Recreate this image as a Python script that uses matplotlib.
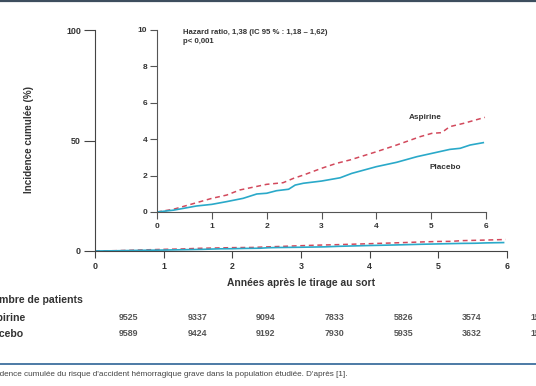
import numpy as np
import matplotlib.pyplot as plt
import matplotlib.transforms as mtransforms

# courbes (annees, incidence cumulee en %)
asp_x = [0, 0.3, 1.0, 1.27, 1.51, 2.0, 2.3, 2.49, 2.67, 3.0, 3.27, 3.52, 4.0, 4.37, 4.8, 5.01, 5.19, 5.34, 5.59, 5.98]
asp_y = [0, 0.15, 0.75, 0.93, 1.21, 1.52, 1.61, 1.85, 2.03, 2.4, 2.67, 2.86, 3.31, 3.68, 4.14, 4.32, 4.36, 4.69, 4.87, 5.2]
pla_x = [0, 0.3, 0.72, 1.0, 1.27, 1.57, 1.82, 2.0, 2.18, 2.4, 2.52, 2.67, 3.0, 3.34, 3.55, 4.0, 4.37, 4.74, 5.01, 5.34, 5.53, 5.71, 5.95]
pla_y = [0, 0.1, 0.33, 0.42, 0.57, 0.75, 0.99, 1.03, 1.17, 1.25, 1.48, 1.58, 1.7, 1.88, 2.12, 2.49, 2.73, 3.04, 3.22, 3.44, 3.5, 3.68, 3.81]

years = [0, 1, 2, 3, 4, 5, 6]
n_aspirine = ["9525", "9337", "9094", "7833", "5826", "3574", "1567"]
n_placebo = ["9589", "9424", "9192", "7930", "5935", "3632", "1573"]

red = "#d2495c"
cyan = "#2aa9c9"
txt = "#333333"
plt.rcParams['font.family'] = ["Liberation Sans", "DejaVu Sans"]

W, H = 536, 386
fig = plt.figure(figsize=(W / 100, H / 100), dpi=100)

def px_axes(x0, x1, ytop, ybot):
    return [x0 / W, (H - ybot) / H, (x1 - x0) / W, (ybot - ytop) / H]

# axe principal 0-100 %
ax = fig.add_axes(px_axes(95, 507, 30, 251))
ax.plot(asp_x, asp_y, color=red, lw=1.1, ls=(0, (3.2, 2.4)))
ax.plot(pla_x, pla_y, color=cyan, lw=1.2)
ax.set_xlim(0, 6)
ax.set_ylim(0, 100)
ax.set_xticks(years)
ax.set_yticks([0, 50, 100])
for s in ["top", "right"]:
    ax.spines[s].set_visible(False)
for s in ["left", "bottom"]:
    ax.spines[s].set_color("#444444")
    ax.spines[s].set_linewidth(0.8)
ax.tick_params(axis="y", length=8, width=0.8, color="#444444", labelsize=6.4, labelcolor=txt, pad=2)
ax.tick_params(axis="x", length=5, width=0.8, color="#444444", labelsize=6.4, labelcolor=txt, pad=3)
for lab in ax.get_xticklabels() + ax.get_yticklabels():
    lab.set_fontweight("bold")
ax.set_xlabel("Années après le tirage au sort", fontsize=7.4, fontweight="bold", color=txt, labelpad=5)
ax.set_facecolor("none")

# zoom 0-10 %
ins = fig.add_axes(px_axes(157, 486, 30, 212))
ins.plot(asp_x, asp_y, color=red, lw=1.1, ls=(0, (3.2, 2.4)))
ins.plot(pla_x, pla_y, color=cyan, lw=1.2)
ins.set_xlim(0, 6)
ins.set_ylim(0, 10)
ins.set_xticks(years)
ins.set_yticks([0, 2, 4, 6, 8, 10])
for s in ["top", "right"]:
    ins.spines[s].set_visible(False)
for s in ["left", "bottom"]:
    ins.spines[s].set_color("#555555")
    ins.spines[s].set_linewidth(0.8)
ins.tick_params(axis="y", length=5, width=0.8, color="#555555", labelsize=6, labelcolor=txt, pad=2)
ins.tick_params(axis="x", length=5, width=0.8, color="#555555", labelsize=6, labelcolor=txt, pad=3)
for lab in ins.get_xticklabels() + ins.get_yticklabels():
    lab.set_fontweight("bold")
ins.set_facecolor("none")
ins.text(0.47, 9.6, "Hazard ratio, 1,38 (IC 95 % : 1,18 – 1,62)\np< 0,001", fontsize=5.6,
         fontweight="bold", color=txt, va="center", ha="left", linespacing=1.45)
ins.text(4.89, 5.2, "Aspirine", fontsize=5.9, fontweight="bold", color=txt, ha="center", va="center")
ins.text(5.25, 2.42, "Placebo", fontsize=5.9, fontweight="bold", color=txt, ha="center", va="center")

fig.text(29 / W, 1 - 140 / H, "Incidence cumulée (%)", rotation=90, fontsize=7.1, fontweight="bold",
         color=txt, ha="center", va="center")

# nombre de patients
tr = mtransforms.blended_transform_factory(ax.transData, fig.transFigure)
fig.text(83 / W, 1 - 300 / H, "Nombre de patients", fontsize=7.6, fontweight="bold", color=txt,
         ha="right", va="center")
fig.text(26 / W, 1 - 318 / H, "Aspirine", fontsize=7.6, fontweight="bold", color=txt, ha="right", va="center")
fig.text(23 / W, 1 - 334 / H, "Placebo", fontsize=7.6, fontweight="bold", color=txt, ha="right", va="center")
for x, a, p in zip(years, n_aspirine, n_placebo):
    fig.text(x + 0.49, 1 - 318 / H, a, transform=tr, fontsize=6.4, fontweight="bold", color="#555555",
             ha="center", va="center")
    fig.text(x + 0.49, 1 - 334 / H, p, transform=tr, fontsize=6.4, fontweight="bold", color="#555555",
             ha="center", va="center")

# filets haut et bas + legende
fig.add_artist(plt.Line2D([0, 1], [1 - 0.5 / H, 1 - 0.5 / H], color="#3d4e5e", lw=1.6))
fig.add_artist(plt.Line2D([0, 1], [1 - 364 / H, 1 - 364 / H], color="#2e6496", lw=1.2))
fig.text(-13 / W, 1 - 375 / H, "Incidence cumulée du risque d'accident hémorragique grave dans la population étudiée. D'après [1].",
         fontsize=5.9, color="#444444", ha="left", va="center")

fig.savefig("out.png", dpi=100)
